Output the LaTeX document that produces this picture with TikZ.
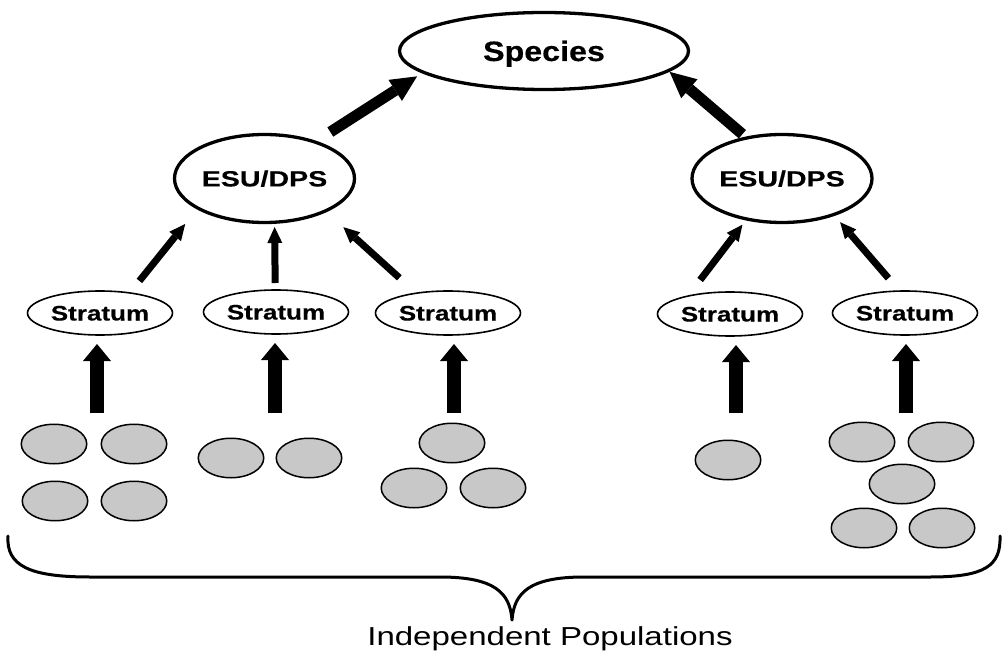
\documentclass[tikz,border=0pt]{standalone}
\usepackage{fontspec}
\setmainfont{Liberation Sans}
\newfontfamily\fSpecies{Liberation Sans}[FakeStretch=1.15,BoldFeatures={FakeBold=0.4}]
\newfontfamily\fEsu{Liberation Sans}[FakeStretch=1.3,BoldFeatures={FakeBold=0.4}]
\newfontfamily\fStrat{Liberation Sans}[FakeStretch=1.24,BoldFeatures={FakeBold=0.4}]
\newfontfamily\fIndep{Liberation Sans}[FakeStretch=1.27]
\usetikzlibrary{shapes.geometric,arrows.meta}
\definecolor{popgray}{RGB}{200,200,200}
\tikzset{
  specnode/.style={ellipse,draw,line width=3.3pt,inner sep=0pt,outer sep=0pt,
    minimum width=289pt,minimum height=77pt,
    font=\fSpecies\bfseries\fontsize{28pt}{28pt}\selectfont,text height=20pt,text depth=0pt},
  esunode/.style={ellipse,draw,line width=3.3pt,inner sep=0pt,outer sep=0pt,
    minimum width=180pt,minimum height=88pt,
    font=\fEsu\bfseries\fontsize{22pt}{22pt}\selectfont,text height=15.8pt,text depth=0pt},
  stratnode/.style={ellipse,draw,line width=1.6pt,inner sep=0pt,outer sep=0pt,
    minimum width=145pt,minimum height=44pt,
    font=\fStrat\bfseries\fontsize{21pt}{21pt}\selectfont,text height=15pt,text depth=0pt},
  popnode/.style={ellipse,draw,fill=popgray,line width=1.5pt,inner sep=0pt,outer sep=0pt,
    minimum width=65.5pt,minimum height=39.5pt},
  labelnode/.style={inner sep=0pt,outer sep=0pt,
    font=\fIndep\fontsize{26pt}{26pt}\selectfont,text height=18.6pt,text depth=0pt},
  bigarrow/.style={line width=11pt,-{Triangle[length=26pt,width=25pt,line width=0pt]}},
  smallarrow/.style={line width=7pt,-{Triangle[length=16pt,width=15pt,line width=0pt]}},
  vertarrow/.style={line width=14pt,-{Triangle[length=17pt,width=28pt,line width=0pt]},shorten >=9pt},
  bracepath/.style={line width=3pt,line join=round,line cap=round}
}
\begin{document}
\begin{tikzpicture}[x=1pt,y=-1pt]
\useasboundingbox (0,0) rectangle (1003,652);

% top levels
\node[specnode] (spec) at (544,51) {Species};
\node[esunode] (esuL) at (264.5,178.5) {ESU/DPS};
\node[esunode] (esuR) at (782,178.5) {ESU/DPS};

% strata
\node[stratnode] (s1) at (100,313) {Stratum};
\node[stratnode] (s2) at (276,312) {Stratum};
\node[stratnode] (s3) at (448,313) {Stratum};
\node[stratnode] (s4) at (730,314) {Stratum};
\node[stratnode] (s5) at (905,313) {Stratum};

% populations
\node[popnode] (p11) at (54,444) {};
\node[popnode] (p12) at (134,444) {};
\node[popnode] (p13) at (55,501) {};
\node[popnode] (p14) at (134,501) {};
\node[popnode] (p21) at (231,458) {};
\node[popnode] (p22) at (309,458) {};
\node[popnode] (p31) at (452,443) {};
\node[popnode] (p32) at (414,488) {};
\node[popnode] (p33) at (493,488) {};
\node[popnode] (p41) at (728,460) {};
\node[popnode] (p51) at (862,442) {};
\node[popnode] (p52) at (941,442) {};
\node[popnode] (p53) at (902,484) {};
\node[popnode] (p54) at (864,528) {};
\node[popnode] (p55) at (942,528) {};

% ESU -> Species
\draw[bigarrow,shorten <=18.5pt,shorten >=7.6pt] (esuL.36.8) -- (spec.190.9);
\draw[bigarrow,shorten <=5.8pt,shorten >=1.8pt] (esuR.131.4) -- (spec.351.1);

% Stratum -> ESU
\draw[smallarrow,shorten <=15.4pt,shorten >=20.4pt] (s1.34.6) -- (esuL.204.3);
\draw[smallarrow,shorten <=7pt,shorten >=4.8pt] (s2.92.5) -- (esuL.283.1);
\draw[smallarrow,shorten <=22.9pt,shorten >=24.2pt] (s3.148.3) -- (esuL.332.2);
\draw[smallarrow,shorten <=20.3pt,shorten >=7.2pt] (s4.157.8) -- (esuR.229.8);
\draw[smallarrow,shorten <=17pt,shorten >=10.1pt] (s5.104.6) -- (esuR.325.4);

% Populations -> Stratum
\coordinate (v1) at (97,413);
\coordinate (v2) at (275,413);
\coordinate (v3) at (454,413);
\coordinate (v4) at (736,413);
\coordinate (v5) at (906,413);
\draw[vertarrow] (v1) -- (v1 |- s1.south);
\draw[vertarrow] (v2) -- (v2 |- s2.south);
\draw[vertarrow] (v3) -- (v3 |- s3.south);
\draw[vertarrow] (v4) -- (v4 |- s4.south);
\draw[vertarrow] (v5) -- (v5 |- s5.south);

% brace
\draw[bracepath] (8,536) .. controls (6,566) and (30,577) .. (90,577)
  -- (440,577) .. controls (495,577) and (510,593) .. (512,620)
  .. controls (514,593) and (529,577) .. (584,577)
  -- (930,577) .. controls (985,577) and (1001,566) .. (1000,536);

\node[labelnode] (lbl) at (550,636) {Independent Populations};
\end{tikzpicture}
\end{document}
